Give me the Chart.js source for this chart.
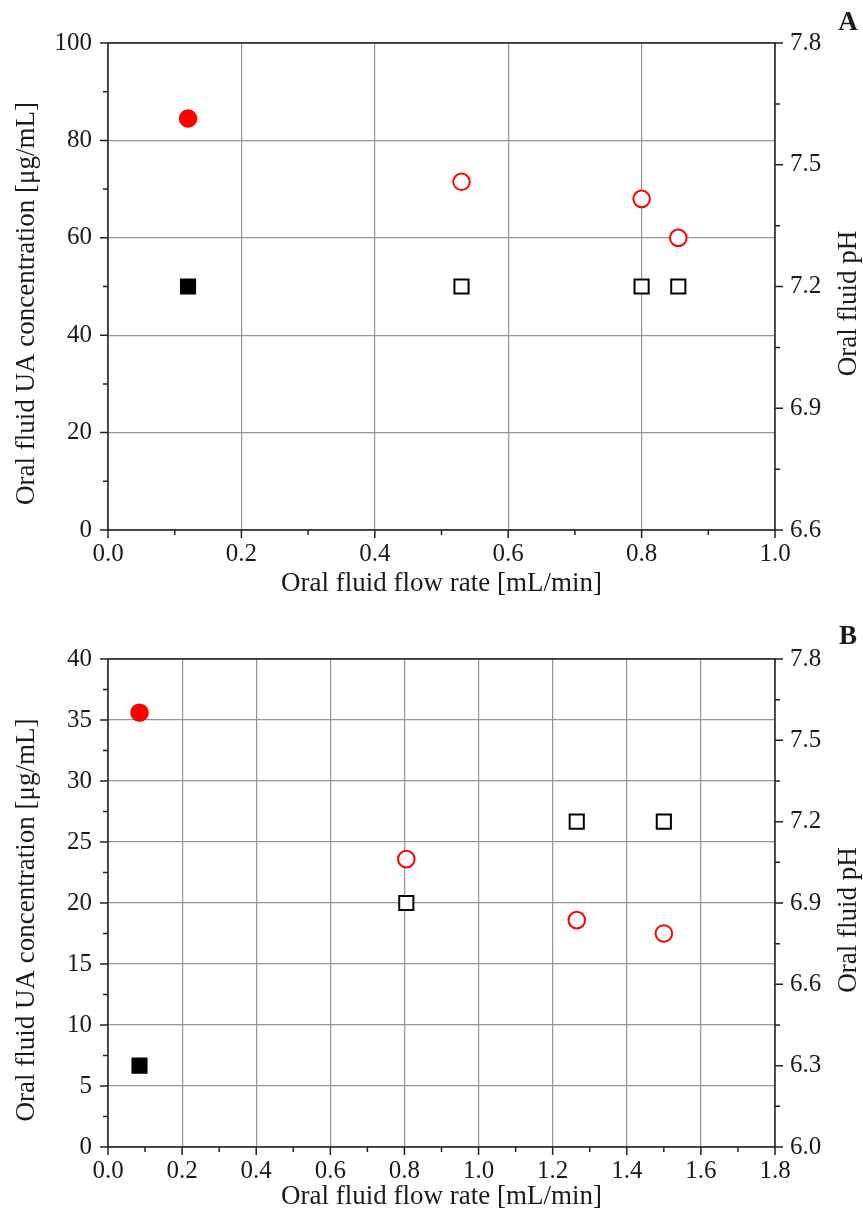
<!DOCTYPE html>
<html>
<head>
<meta charset="utf-8">
<script src="https://cdn.jsdelivr.net/npm/chart.js@4/dist/chart.umd.min.js"></script>
<style>
    body { margin: 0; background: #fff; }
    canvas { position: absolute; left: 0; }
    #chartA { top: 0; }
    #chartB { top: 605px; }
</style>
</head>
<body>
<canvas id="chartA" width="863" height="605"></canvas>
<canvas id="chartB" width="863" height="606"></canvas>
<script>
// panel A
const flowRateA = [0.12, 0.53, 0.80, 0.855];
const uaConcA = [84.5, 71.5, 68.0, 60.0];
const phA = [7.2, 7.2, 7.2, 7.2];
const flowTicksA = [0, 0.2, 0.4, 0.6, 0.8, 1.0];
const uaTicksA = [0, 20, 40, 60, 80, 100];
const phTicksA = [6.6, 6.9, 7.2, 7.5, 7.8];

// panel B
const flowRateB = [0.085, 0.805, 1.265, 1.5];
const uaConcB = [35.6, 23.6, 18.6, 17.5];
const phB = [6.3, 6.9, 7.2, 7.2];
const flowTicksB = [0, 0.2, 0.4, 0.6, 0.8, 1.0, 1.2, 1.4, 1.6, 1.8];
const uaTicksB = [0, 5, 10, 15, 20, 25, 30, 35, 40];
const phTicksB = [6.0, 6.3, 6.6, 6.9, 7.2, 7.5, 7.8];

const serif = '"Liberation Serif", "Times New Roman", serif';
const textColor = "#1a1a1a";

// majors plus one minor tick between each pair
function withMinor(major) {
    return function (scale) {
        const ticks = [];
        major.forEach((v, i) => {
            ticks.push({ value: v });
            if (i < major.length - 1) {
                ticks.push({ value: (v + major[i + 1]) / 2 });
            }
        });
        scale.ticks = ticks;
    };
}

function labelFrom(major, digits) {
    return function (value, index) {
        return index % 2 === 0 ? major[index / 2].toFixed(digits) : "";
    };
}

const majorGrid = (ctx) => (ctx.index % 2 === 0 ? "#959595" : "rgba(0,0,0,0)");

const framePlugin = {
    id: "frame",
    afterDraw(chart, args, opts) {
        const { ctx, chartArea: a, scales } = chart;
        ctx.save();
        ctx.strokeStyle = "#222";
        ctx.lineWidth = 1.5;
        ctx.beginPath();
        scales.x.ticks.forEach((t, i) => {
            const px = scales.x.getPixelForValue(t.value);
            const len = i % 2 === 0 ? 8 : 5;
            ctx.moveTo(px, a.bottom);
            ctx.lineTo(px, a.bottom + len);
        });
        scales.y.ticks.forEach((t, i) => {
            const py = scales.y.getPixelForValue(t.value);
            const len = i % 2 === 0 ? 8 : 5;
            ctx.moveTo(a.left - len, py);
            ctx.lineTo(a.left, py);
        });
        scales.y2.ticks.forEach((t, i) => {
            const py = scales.y2.getPixelForValue(t.value);
            const len = i % 2 === 0 ? 8 : 5;
            ctx.moveTo(a.right, py);
            ctx.lineTo(a.right + len, py);
        });
        ctx.stroke();
        ctx.strokeRect(a.left, a.top, a.right - a.left, a.bottom - a.top);

        ctx.fillStyle = textColor;
        ctx.textAlign = "center";
        ctx.textBaseline = "middle";
        ctx.font = "bold 27px " + serif;
        ctx.fillText(opts.letter, 848, opts.letterY);

        // axis titles, both read bottom to top
        const midY = (a.top + a.bottom) / 2 + 17;
        ctx.font = "27px " + serif;
        [[27, opts.leftTitle], [849, opts.rightTitle]].forEach(([tx, text]) => {
            ctx.save();
            ctx.translate(tx, midY);
            ctx.rotate(-Math.PI / 2);
            ctx.fillText(text, 0, 0);
            ctx.restore();
        });
        ctx.restore();
    }
};

function drawPanel(canvasId, p) {
    const canvas = document.getElementById(canvasId);
    const h = canvas.height;
    const tickFont = { family: serif, size: 25 };
    const titleFont = { family: serif, size: 27, lineHeight: 1 };

    return new Chart(canvas, {
        type: "scatter",
        data: {
            datasets: [
                {
                    label: "UA",
                    data: p.flow.map((x, i) => ({ x, y: p.ua[i] })),
                    yAxisID: "y",
                    pointStyle: "circle",
                    pointRadius: 8.3,
                    pointBorderWidth: 2,
                    pointBorderColor: "#ff0000",
                    pointBackgroundColor: (ctx) => (ctx.dataIndex === 0 ? "#ff0000" : "#ffffff")
                },
                {
                    label: "pH",
                    data: p.flow.map((x, i) => ({ x, y: p.ph[i] })),
                    yAxisID: "y2",
                    pointStyle: "rect",
                    pointRadius: 10,
                    pointBorderWidth: 2,
                    pointBorderColor: "#000000",
                    pointBackgroundColor: (ctx) => (ctx.dataIndex === 0 ? "#000000" : "#ffffff")
                }
            ]
        },
        options: {
            responsive: false,
            animation: false,
            events: [],
            layout: { padding: { top: p.top, left: 0, right: 0, bottom: 0 } },
            plugins: {
                legend: { display: false },
                tooltip: { enabled: false },
                frame: {
                    letter: p.letter,
                    letterY: p.letterY,
                    leftTitle: "Oral fluid UA concentration [μg/mL]",
                    rightTitle: "Oral fluid pH"
                }
            },
            scales: {
                x: {
                    type: "linear",
                    min: p.flowTicks[0],
                    max: p.flowTicks[p.flowTicks.length - 1],
                    afterBuildTicks: withMinor(p.flowTicks),
                    afterFit: (s) => { s.height = h - p.bottom; },
                    border: { display: false },
                    grid: { drawTicks: false, color: majorGrid, lineWidth: 1.2 },
                    ticks: {
                        autoSkip: false,
                        maxRotation: 0,
                        padding: 9,
                        color: textColor,
                        font: tickFont,
                        callback: labelFrom(p.flowTicks, 1)
                    },
                    title: {
                        display: true,
                        text: "Oral fluid flow rate [mL/min]",
                        color: textColor,
                        font: titleFont,
                        padding: { top: 0, bottom: p.xTitlePad }
                    }
                },
                y: {
                    type: "linear",
                    position: "left",
                    min: p.uaTicks[0],
                    max: p.uaTicks[p.uaTicks.length - 1],
                    afterBuildTicks: withMinor(p.uaTicks),
                    afterFit: (s) => { s.width = 108; },
                    border: { display: false },
                    grid: { drawTicks: false, color: majorGrid, lineWidth: 1.2 },
                    ticks: {
                        autoSkip: false,
                        padding: 16,
                        color: textColor,
                        font: tickFont,
                        callback: labelFrom(p.uaTicks, 0)
                    }
                },
                y2: {
                    type: "linear",
                    position: "right",
                    min: p.phTicks[0],
                    max: p.phTicks[p.phTicks.length - 1],
                    afterBuildTicks: withMinor(p.phTicks),
                    afterFit: (s) => { s.width = 88; },
                    border: { display: false },
                    grid: { drawTicks: false, drawOnChartArea: false },
                    ticks: {
                        autoSkip: false,
                        padding: 15,
                        color: textColor,
                        font: tickFont,
                        callback: labelFrom(p.phTicks, 1)
                    }
                }
            }
        },
        plugins: [framePlugin]
    });
}

drawPanel("chartA", {
    flow: flowRateA, ua: uaConcA, ph: phA,
    flowTicks: flowTicksA, uaTicks: uaTicksA, phTicks: phTicksA,
    top: 43, bottom: 530, xTitlePad: 8, letter: "A", letterY: 23
});

drawPanel("chartB", {
    flow: flowRateB, ua: uaConcB, ph: phB,
    flowTicks: flowTicksB, uaTicks: uaTicksB, phTicks: phTicksB,
    top: 54, bottom: 542, xTitlePad: 1, letter: "B", letterY: 32
});
</script>
</body>
</html>
